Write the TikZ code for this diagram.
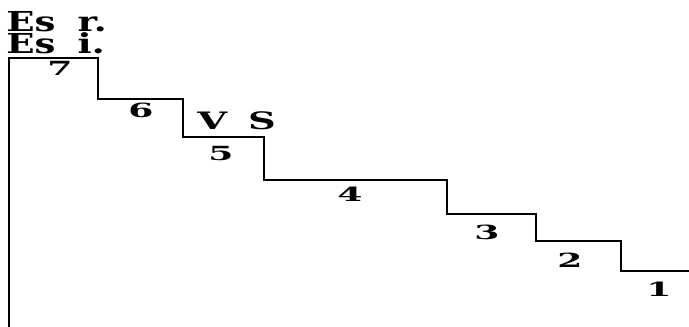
\documentclass[tikz,border=0pt]{standalone}
\usepackage{fontspec}
\setmainfont{DejaVu Serif}
\tikzset{
  bigtxt/.style={font=\bfseries\fontsize{27.5}{27.5}\selectfont, xscale=1.35, inner sep=0pt, anchor=base west},
  midtxt/.style={font=\bfseries\fontsize{24}{24}\selectfont, xscale=1.6, inner sep=0pt, anchor=base west},
  numtxt/.style={font=\bfseries\fontsize{19.5}{19.5}\selectfont, xscale=1.85, inner sep=0pt, anchor=base}
}
\begin{document}
\begin{tikzpicture}[x=1pt,y=-1pt]
\useasboundingbox (0,0) rectangle (689,327);

%staircase
\draw[line width=1.4pt] (9,327)--(9,58)--(98,58)--(98,99)--(183,99)--(183,137)--(264,137)--(264,180)
  --(447,180)--(447,214)--(536,214)--(536,241)--(621,241)--(621,271)--(689,271);

\node[bigtxt] (esr) at (6,31) {Es\hspace{.6em}r.};
\node[bigtxt] (esi) at (6,53) {Es\hspace{.6em}i.};
\node[midtxt] (vs) at (197,129) {V\hspace{.55em}S};

\node[numtxt] (n7) at (60,75) {7};
\node[numtxt] (n6) at (141,117) {6};
\node[numtxt] (n5) at (221,160) {5};
\node[numtxt] (n4) at (350,201) {4};
\node[numtxt] (n3) at (487,239) {3};
\node[numtxt] (n2) at (570,267) {2};
\node[numtxt] (n1) at (659,296) {1};

\end{tikzpicture}
\end{document}
